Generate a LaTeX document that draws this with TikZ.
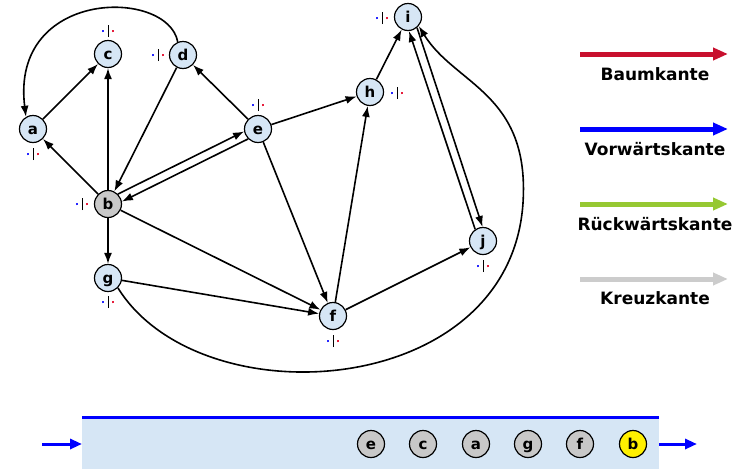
\documentclass[tikz,border=0pt]{standalone}
\usepackage{fontspec}
\setmainfont{DejaVu Sans}
\usetikzlibrary{arrows.meta}

\definecolor{nodefill}{RGB}{214,230,245}
\definecolor{queuefill}{RGB}{214,230,245}
\definecolor{visitgray}{RGB}{200,200,200}
\definecolor{curyellow}{RGB}{255,240,0}
\definecolor{treered}{RGB}{200,16,46}
\definecolor{fwdblue}{RGB}{0,0,255}
\definecolor{backgreen}{RGB}{150,200,50}
\definecolor{crossgray}{RGB}{204,204,204}
\definecolor{dotblue}{RGB}{40,40,255}
\definecolor{dotred}{RGB}{230,30,60}

% time stamp marker: discovery dot | finishing dot
\newcommand{\stampdot}{\rule[-1.25pt]{2.5pt}{2.5pt}}
\newcommand{\timemark}{\textcolor{dotblue}{\stampdot}\hspace{3.5pt}\rule[-6pt]{0.9pt}{12pt}\hspace{3.5pt}\textcolor{dotred}{\stampdot}}

\tikzset{
  vertex/.style={circle, draw, line width=1.2pt, fill=nodefill, minimum size=27pt,
    inner sep=0pt, text height=10.5pt, text depth=0.5pt,
    font=\fontsize{15}{15}\selectfont\bfseries},
  done/.style={vertex, fill=visitgray},
  active/.style={vertex, fill=curyellow},
  stampnode/.style={inner sep=0pt},
  edge/.style={line width=1.6pt, -{Latex[length=11pt,width=8pt]}},
  legarrow/.style={line width=5pt, -{Triangle[length=15pt,width=12pt]}},
  legtext/.style={anchor=base, font=\fontsize{17}{17}\selectfont\bfseries},
  queuearrow/.style={draw=fwdblue, line width=3pt, -{Triangle[length=12pt,width=10pt]}},
}

\begin{document}
\begin{tikzpicture}[x=1pt, y=-1pt]
  \useasboundingbox (0,0) rectangle (749,469);

  % vertices
  \node[vertex] (a) at (33,129) {a};
  \node[vertex] (c) at (108,54) {c};
  \node[vertex] (d) at (183,55) {d};
  \node[vertex] (e) at (258,129) {e};
  \node[done]   (b) at (108,204) {b};
  \node[vertex] (g) at (108,278) {g};
  \node[vertex] (f) at (333,316) {f};
  \node[vertex] (h) at (370,92) {h};
  \node[vertex] (i) at (408,17) {i};
  \node[vertex] (j) at (483,241) {j};

  % time stamps
  \node[stampnode] (sa) at (33,154) {\timemark};
  \node[stampnode] (sc) at (108,31) {\timemark};
  \node[stampnode] (sd) at (158,55) {\timemark};
  \node[stampnode] (se) at (258,105) {\timemark};
  \node[stampnode] (sb) at (82,204) {\timemark};
  \node[stampnode] (sg) at (108,302) {\timemark};
  \node[stampnode] (sf) at (333,341) {\timemark};
  \node[stampnode] (sh) at (397,93) {\timemark};
  \node[stampnode] (si) at (382,18) {\timemark};
  \node[stampnode] (sj) at (483,266) {\timemark};

  % edges
  \draw[edge] (a) -- (c);
  \draw[edge] (b) -- (c);
  \draw[edge] (b) -- (a);
  \draw[edge] (d) -- (b);
  \draw[edge] (e) -- (d);
  \draw[edge] (b.45) -- (e.190);
  \draw[edge] (e.225) -- (b.10);
  \draw[edge] (e) -- (h);
  \draw[edge] (h) -- (i);
  \draw[edge] (f) -- (h);
  \draw[edge] (e) -- (f);
  \draw[edge] (b) -- (f);
  \draw[edge] (b) -- (g);
  \draw[edge] (g) -- (f);
  \draw[edge] (f) -- (j);
  \draw[edge] (i.-50) -- (j.92);
  \draw[edge] (j.124) -- (i.-86);
  \draw[edge] (d.112) .. controls (168,-12) and (10,-12) .. (a.120);
  \coordinate (loopturn) at (523,203);
  \draw[edge] (g.-45) .. controls (200,420) and (510,400) .. (loopturn)
              .. controls (530,93) and (455,85) .. (i.-40);

  % legend
  \coordinate (l1s) at (580,54);  \coordinate (l1e) at (728,54);
  \coordinate (l2s) at (580,129); \coordinate (l2e) at (728,129);
  \coordinate (l3s) at (580,204); \coordinate (l3e) at (728,204);
  \coordinate (l4s) at (580,279); \coordinate (l4e) at (728,279);
  \draw[legarrow, draw=treered, fill=treered] (l1s) -- (l1e);
  \draw[legarrow, draw=fwdblue, fill=fwdblue] (l2s) -- (l2e);
  \draw[legarrow, draw=backgreen, fill=backgreen] (l3s) -- (l3e);
  \draw[legarrow, draw=crossgray, fill=crossgray] (l4s) -- (l4e);
  \node[legtext] (t1) at (655,80) {Baumkante};
  \node[legtext] (t2) at (655,155) {Vorwärtskante};
  \node[legtext] (t3) at (655,230) {Rückwärtskante};
  \node[legtext] (t4) at (655,304) {Kreuzkante};

  % queue
  \fill[queuefill] (82,418) rectangle (659,469);
  \draw[fwdblue, line width=3pt] (82,417) -- (659,417);
  \coordinate (qin0) at (42,444);  \coordinate (qin1) at (82,444);
  \coordinate (qout0) at (659,444); \coordinate (qout1) at (697,444);
  \draw[queuearrow] (qin0) -- (qin1);
  \draw[queuearrow] (qout0) -- (qout1);
  \node[done]   (qe) at (371,444) {e};
  \node[done]   (qc) at (423,444) {c};
  \node[done]   (qa) at (476,444) {a};
  \node[done]   (qg) at (528,444) {g};
  \node[done]   (qf) at (580,444) {f};
  \node[active] (qb) at (633,444) {b};
\end{tikzpicture}
\end{document}
